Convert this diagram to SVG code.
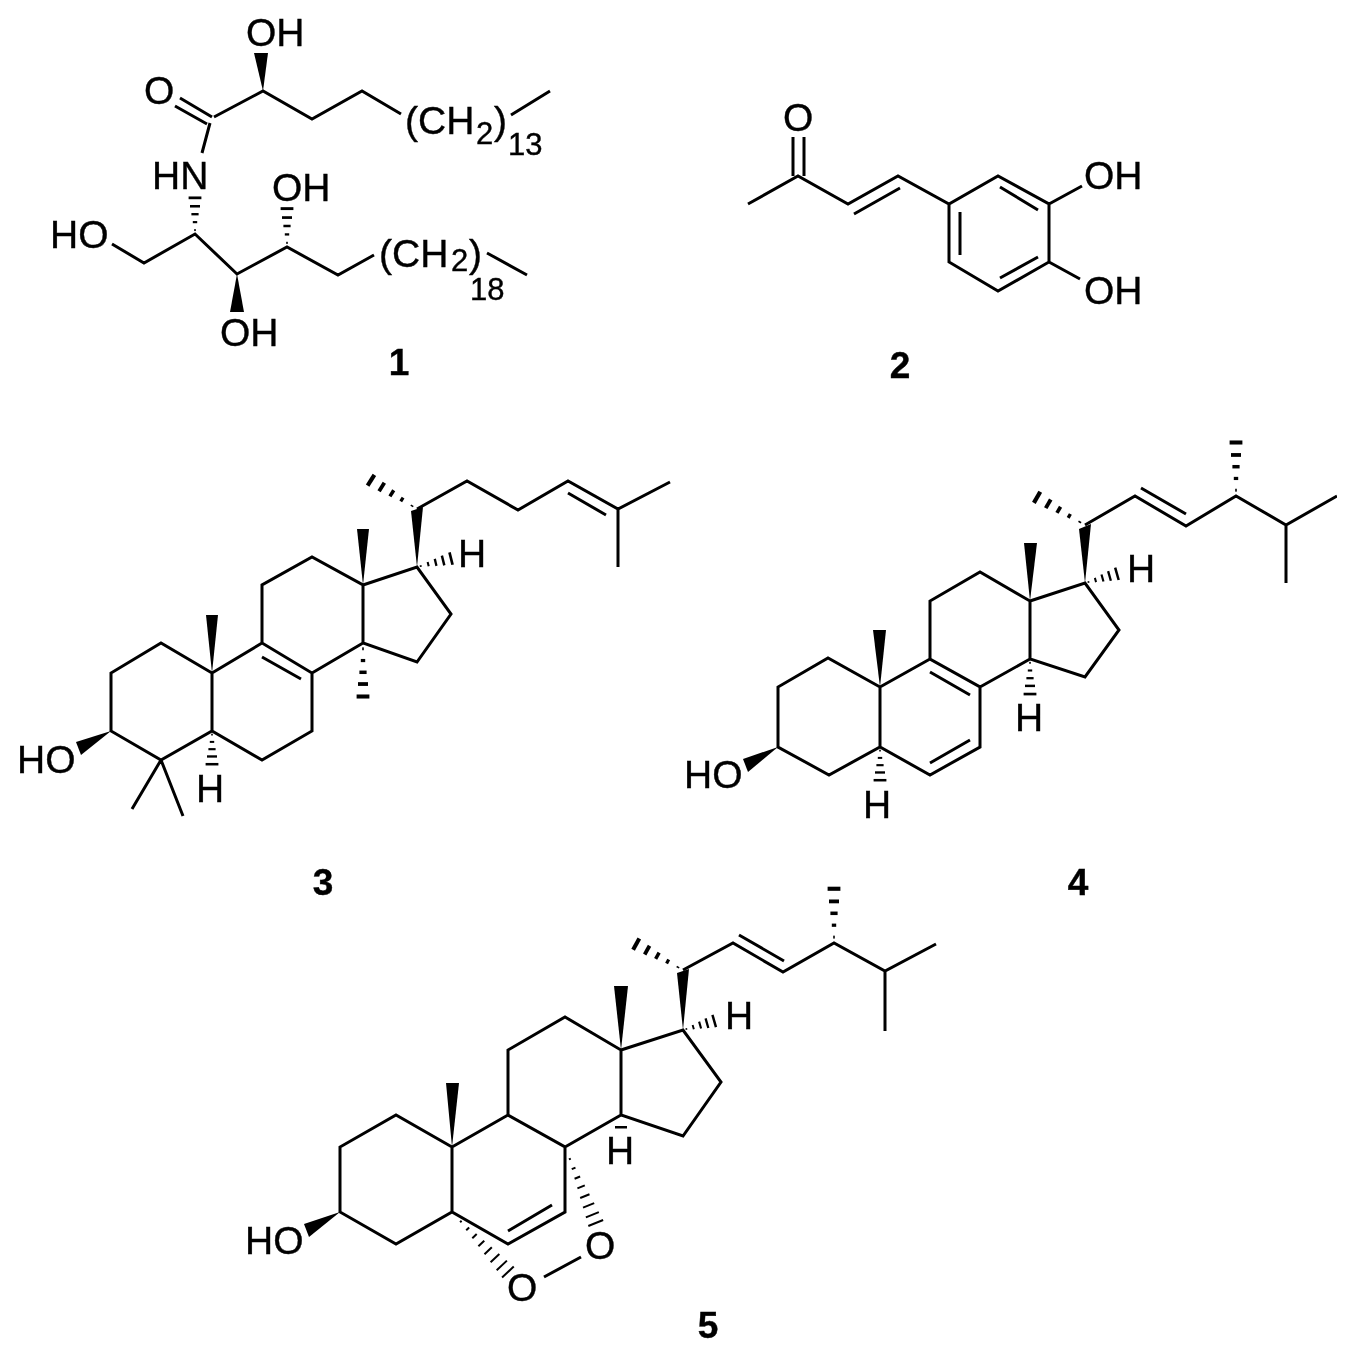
<svg xmlns="http://www.w3.org/2000/svg" xmlns:xlink="http://www.w3.org/1999/xlink" width="1350" height="1372" viewBox="0 0 1350 1372">
<style>
text{font-family:"Liberation Sans",Arial,sans-serif;fill:#000;stroke:#000;stroke-width:0.4;font-size:39px}
.b{fill:none;stroke:#000;stroke-width:3;stroke-linejoin:miter;stroke-linecap:butt}
.w{fill:#000;stroke:none}
text.s{font-size:31px}
text.n{font-weight:bold;font-size:37px;text-anchor:middle}
</style>
<defs>
<filter id="soft" x="0" y="0" width="1" height="1" filterUnits="objectBoundingBox"><feGaussianBlur stdDeviation="0.65"/></filter>
<g id="hash">
<rect x="3" y="-0.8" width="2" height="1.6"/>
<rect x="11" y="-2.2" width="2.2" height="4.4"/>
<rect x="19" y="-3.6" width="2.4" height="7.2"/>
<rect x="27" y="-5" width="2.6" height="10"/>
<rect x="35.5" y="-6.4" width="2.8" height="12.8"/>
</g>
<g id="hashlong">
<rect x="12" y="-1" width="2" height="2"/>
<rect x="22" y="-2" width="2" height="4"/>
<rect x="32" y="-3" width="2" height="6"/>
<rect x="42" y="-4" width="2" height="8"/>
<rect x="52" y="-5" width="2" height="10"/>
<rect x="62" y="-6" width="2" height="12"/>
<rect x="72" y="-7" width="2" height="14"/>
<rect x="81" y="-8" width="2" height="16"/>
</g>
</defs>
<rect width="1350" height="1372" fill="#fff"/>
<g filter="url(#soft)">

<g id="compound-1">
<path class="b" d="M214 117L263 91L312 119L362 91L401 114M180 98L212 117M175 106L207 124M210 123L202 153M112 244L144 263L195 234L237 274L287 247L338 275L374 255M511 115L550 91M487 253L527 275"/>
<polygon class="w" points="263,91 254,53 268,53"/>
<polygon class="w" points="237,274 230,312 244,312"/>
<use href="#hash" transform="translate(195,234) rotate(-90) scale(0.98,1)"/>
<use href="#hash" transform="translate(287,247) rotate(-90) scale(1.04,1)"/>
<text x="246" y="46">OH</text>
<text x="144" y="104">O</text>
<text x="152" y="189">HN</text>
<text x="272" y="201">OH</text>
<text x="50" y="248">HO</text>
<text x="220" y="346">OH</text>
<text x="405" y="134">(CH</text>
<text class="s" x="476" y="144">2</text>
<text x="494" y="134">)</text>
<text class="s" x="508" y="155">13</text>
<text x="379" y="267">(CH</text>
<text class="s" x="451" y="271">2</text>
<text x="469" y="267">)</text>
<text class="s" x="470" y="300">18</text>
<text class="n" x="399" y="375">1</text>
</g>

<g id="compound-2">
<path class="b" d="M748 204L798 176L848 204L898 176L949 204L998 176L1049 204L1049 262L998 291L949 262L949 204M793 137V176M804 137V176M854 214L900 188M1000 187L1038 210M960 212V255M1000 278L1038 257M1049 204L1082 186M1049 262L1080 279"/>
<text x="783" y="131">O</text>
<text x="1084" y="189">OH</text>
<text x="1084" y="304">OH</text>
<text class="n" x="900" y="378">2</text>
</g>

<g id="compound-3">
<path class="b" d="M212 673L161 643L111 673L111 731L161 760L212 731L262 760L312 731L312 673L262 643L262 585L312 557L363 585L363 643L417 662L451 614L417 567L363 585M212 673V731M212 673L262 643M312 673L363 643M262 657L301 679M417 509L467 481L518 510L568 481L618 509L670 482M618 509V567M568 493L606 515M161 760L132 809M161 760L183 816"/>
<polygon class="w" points="212,673 206,615 218,615"/>
<polygon class="w" points="363,585 357,529 369,529"/>
<polygon class="w" points="417,567 411,511 423,507"/>
<polygon class="w" points="111,731 76,742 81,755"/>
<use href="#hash" transform="translate(417,509) rotate(-148) scale(1.47,1)"/>
<use href="#hash" transform="translate(417,567) rotate(-14) scale(0.95,1)"/>
<use href="#hash" transform="translate(363,643) rotate(90) scale(1.45,1)"/>
<use href="#hash" transform="translate(212,731) rotate(90) scale(0.9,1)"/>
<text x="17" y="773">HO</text>
<text x="196" y="802">H</text>
<text x="458" y="567">H</text>
<text class="n" x="323" y="895">3</text>
</g>

<g id="compound-4">
<path class="b" d="M880 687L828 658L778 687L778 747L829 775L880 747L930 775L980 747L980 687L930 659L930 601L980 572L1030 601L1030 659L1085 677L1119 630L1085 583L1030 601M880 687V747M880 687L930 659M980 687L1030 659M930 672L970 695M930 763L970 740M1085 525L1135 496L1186 526L1236 496L1286 525L1337 496M1286 525V583M1141 488L1186 514"/>
<polygon class="w" points="880,687 873,630 886,630"/>
<polygon class="w" points="1030,601 1024,543 1037,543"/>
<polygon class="w" points="1085,583 1079,529 1091,524"/>
<polygon class="w" points="778,747 743,759 748,772"/>
<use href="#hash" transform="translate(1085,525) rotate(-150) scale(1.5,1)"/>
<use href="#hash" transform="translate(1236,496) rotate(-90) scale(1.45,1)"/>
<use href="#hash" transform="translate(1085,583) rotate(-16) scale(0.9,1)"/>
<use href="#hash" transform="translate(1030,659) rotate(90) scale(0.95,1)"/>
<use href="#hash" transform="translate(880,747) rotate(90) scale(0.9,1)"/>
<text x="684" y="788">HO</text>
<text x="863" y="818">H</text>
<text x="1015" y="731">H</text>
<text x="1127" y="582">H</text>
<text class="n" x="1078" y="895">4</text>
</g>

<g id="compound-5">
<path class="b" d="M452 1147L396 1115L340 1147L340 1212L396 1244L452 1212L508 1244L565 1212L565 1147L508 1115L508 1050L565 1017L621 1050L621 1115L683 1136L721 1082L683 1030L621 1050M452 1147V1212M452 1147L508 1115M565 1147L621 1115M508 1231L552 1205M683 970L733 943L783 972L834 943L885 971L936 944M885 971V1031M739 935L784 961M544 1277L581 1257"/>
<polygon class="w" points="452,1147 446,1083 459,1083"/>
<polygon class="w" points="621,1050 614,986 628,986"/>
<polygon class="w" points="683,1030 677,973 689,969"/>
<polygon class="w" points="340,1212 304,1224 309,1237"/>
<rect x="615" y="1126" width="12" height="2.5"/>
<use href="#hash" transform="translate(683,970) rotate(-151) scale(1.45,1)"/>
<use href="#hash" transform="translate(834,943) rotate(-90) scale(1.47,1)"/>
<use href="#hash" transform="translate(683,1030) rotate(-16) scale(0.88,1)"/>
<use href="#hashlong" transform="translate(565,1147) rotate(68)"/>
<use href="#hashlong" transform="translate(452,1212) rotate(47)"/>
<text x="245" y="1254">HO</text>
<text x="606" y="1164">H</text>
<text x="725" y="1029">H</text>
<text x="585" y="1259">O</text>
<text x="507" y="1301">O</text>
<text class="n" x="708" y="1338">5</text>
</g>

</g>
</svg>
